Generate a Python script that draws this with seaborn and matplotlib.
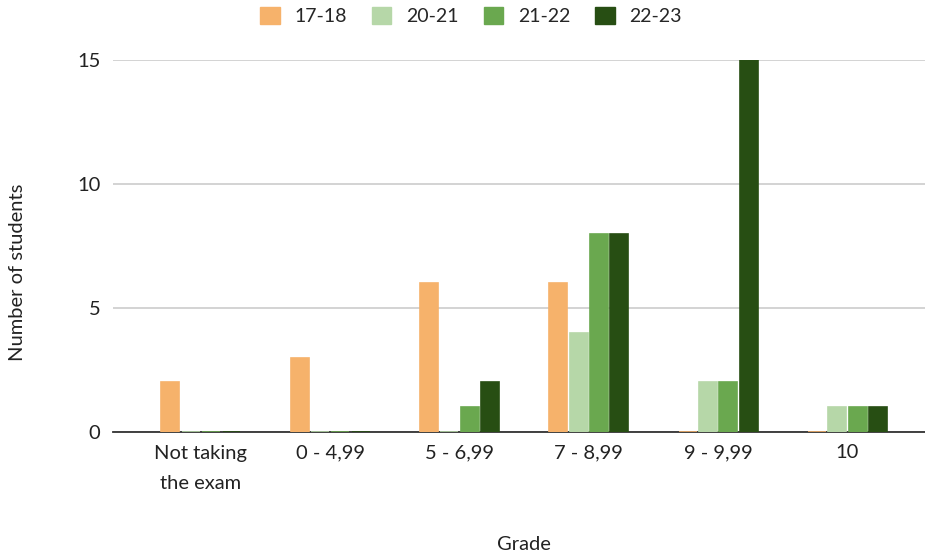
"""
Grade distribution per school year - grouped bar chart.
"""

import pandas as pd
import matplotlib.pyplot as plt
import seaborn as sns

# Dados
categorias = ["Not taking\nthe exam", "0 - 4,99", "5 - 6,99", "7 - 8,99", "9 - 9,99", "10"]
anos = ["17-18", "20-21", "21-22", "22-23"]
v_17_18 = [2, 3, 6, 6, 0, 0]
v_20_21 = [0, 0, 0, 4, 2, 1]
v_21_22 = [0, 0, 1, 8, 2, 1]
v_22_23 = [0, 0, 2, 8, 15, 1]

CORES = {
    "17-18": "#F6B26B",
    "20-21": "#B6D7A8",
    "21-22": "#6AA84F",
    "22-23": "#274E13",
}

df = pd.DataFrame({
    "Grade": categorias * 4,
    "Year": [a for a in anos for _ in categorias],
    "Students": v_17_18 + v_20_21 + v_21_22 + v_22_23,
})

sns.set_theme(style="white")
plt.rcParams["font.family"] = ["Lato", "DejaVu Sans"]

fig = plt.figure(figsize=(9.25, 5.59), dpi=100)
ax = fig.add_axes([113 / 925, 1 - 432 / 559, (925 - 113) / 925, (432 - 60) / 559])

sns.barplot(
    data=df, x="Grade", y="Students", hue="Year",
    order=categorias, hue_order=anos, palette=CORES, saturation=1,
    width=0.63, gap=0.12, ax=ax, legend=False,
    linewidth=1.2,
)
for barra in ax.patches:
    barra.set_edgecolor(barra.get_facecolor())
    barra.set_zorder(3)

ax.set_xlim(-0.68, 5.6)
ax.set_ylim(0, 15)
ax.set_yticks([0, 5, 10, 15])
ax.yaxis.grid(True, color="#CCCCCC", linewidth=1.2)
ax.set_axisbelow(True)
for lado in ["top", "right", "left"]:
    ax.spines[lado].set_visible(False)
ax.spines["bottom"].set_color("#333333")
ax.spines["bottom"].set_linewidth(1.3)
ax.spines["bottom"].set_zorder(2)
ax.tick_params(axis="both", length=0, labelsize=14.5, colors="#222222")
ax.tick_params(axis="x", pad=9)
ax.tick_params(axis="y", pad=9)
for rotulo in ax.get_xticklabels():
    rotulo.set_linespacing(1.95)

ax.set_xlabel("")
ax.set_ylabel("")
fig.text(18 / 925, 1 - 272 / 559, "Number of students", rotation=90,
         ha="center", va="center", fontsize=14.5, color="#222222")
fig.text(524 / 925, 1 - 545 / 559, "Grade", ha="center", va="center",
         fontsize=14.5, color="#222222")

handles = [plt.Rectangle((0, 0), 1, 1, color=CORES[a]) for a in anos]
fig.legend(handles, anos, loc="center", bbox_to_anchor=(471 / 925, 1 - 16 / 559),
           ncol=4, frameon=False, fontsize=14, handlelength=1.0, handleheight=1.0,
           columnspacing=1.3, handletextpad=0.75)

fig.savefig("out.png", dpi=100)
